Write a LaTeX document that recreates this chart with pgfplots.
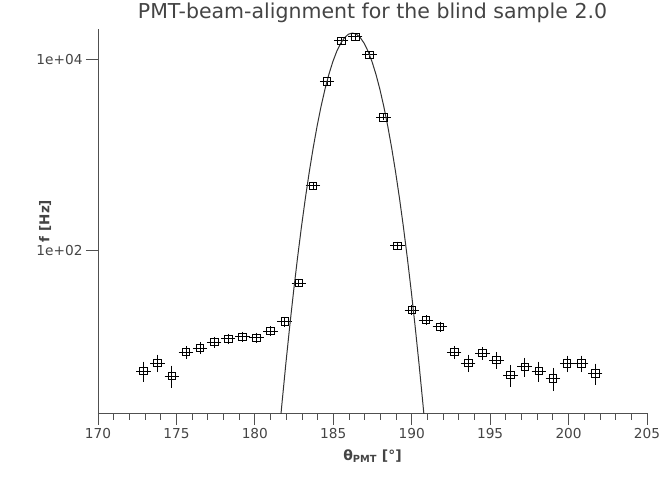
\documentclass[border=0pt]{standalone}
\usepackage{fontspec}
\setmainfont{DejaVu Sans}
\usepackage{pgfplots}
\pgfplotsset{compat=1.18}
\definecolor{axgray}{HTML}{505050}
\definecolor{txtgray}{HTML}{444444}
\pgfplotstableread{
x y ex ey
172.9 5.5 0.3 1.0
173.8 6.7 0.3 1.0
174.7 4.9 0.3 1.0
175.6 8.7 0.3 0.8
176.5 9.6 0.3 0.8
177.4 11.1 0.3 0.8
178.3 12.0 0.3 0.8
179.2 12.6 0.3 0.8
180.1 12.3 0.3 0.8
181.0 14.5 0.3 0.8
181.9 18.1 0.3 1.0
182.8 46 0.3 2.0
183.7 480 0.3 8
184.6 5900 0.3 60
185.5 15800 0.3 120
186.4 17400 0.3 130
187.3 11300 0.3 100
188.2 2500 0.3 40
189.1 113 0.3 4
190.0 24 0.3 1.5
190.9 18.9 0.3 1.0
191.8 16 0.3 1.0
192.7 8.7 0.3 0.8
193.6 6.7 0.3 1.0
194.5 8.5 0.3 0.8
195.4 7.2 0.3 1.0
196.3 5.0 0.3 1.0
197.2 6.1 0.3 1.0
198.1 5.5 0.3 1.0
199.0 4.6 0.3 1.0
199.9 6.6 0.3 0.9
200.8 6.6 0.3 0.9
201.7 5.2 0.3 1.0
}\measured
\begin{document}
\begin{tikzpicture}
\begin{axis}[
  scale only axis, width=549bp, height=384bp,
  xmin=170, xmax=205, ymode=log, ymin=2, ymax=21000,
  axis x line*=bottom, axis y line*=left,
  axis line style={axgray, line width=0.8bp},
  xtick={170,175,...,205}, minor x tick num=4,
  ytick={100,10000}, yticklabels={1e+02,1e+04}, yminorticks=false,
  tick align=outside, major tick length=12bp, minor tick length=7bp,
  tick style={axgray, line width=0.8bp},
  /pgf/number format/assume math mode=true,
  ticklabel style={font=\fontsize{13.7bp}{16bp}\selectfont, text=txtgray},
  title={PMT-beam-alignment for the blind sample 2.0},
  title style={font=\fontsize{20.5bp}{24bp}\selectfont, text=txtgray, at={(axis description cs:0.5,1)}, anchor=center, yshift=10bp},
  xlabel={\textbf{θ\textsubscript{PMT} [°]}},
  xlabel style={font=\fontsize{14bp}{16bp}\selectfont, text=txtgray, at={(axis description cs:0.5,0)}, anchor=center, yshift=-43bp},
  ylabel={\textbf{f [Hz]}},
  ylabel style={font=\fontsize{13.5bp}{16bp}\selectfont, text=txtgray, at={(axis description cs:-0.0965,0.5)}, anchor=center},
]
\addplot[black, line width=0.7bp, only marks, mark=square, mark size=3.8bp,
  error bars/.cd, x dir=both, x explicit, y dir=both, y explicit,
  error bar style={line width=0.6bp},
  error mark options={line width=0.6bp, mark size=2.5bp}]
  table[x=x, y=y, x error=ex, y error=ey] {\measured};
\addplot[black!80, line width=1bp, no marks] coordinates {
(181.47,0.878) (181.72,2.443) (181.97,6.434) (182.22,16.03) (182.47,37.77)
(182.72,84.25) (182.97,177.8) (183.22,354.9) (183.47,670.7) (183.72,1199)
(183.97,2028) (184.22,3245) (184.47,4914) (184.72,7039) (184.97,9543)
(185.22,12240) (185.47,14860) (185.72,17060) (185.97,18540) (186.22,19050)
(186.47,18540) (186.72,17060) (186.97,14860) (187.22,12240) (187.47,9543)
(187.72,7039) (187.97,4914) (188.22,3245) (188.47,2028) (188.72,1199)
(188.97,670.7) (189.22,354.9) (189.47,177.8) (189.72,84.25) (189.97,37.77)
(190.22,16.03) (190.47,6.434) (190.72,2.443) (190.97,0.878)
};
\end{axis}
\pgfresetboundingbox
\path[use as bounding box] ([xshift=-98bp,yshift=-66bp]current axis.south west) rectangle ([xshift=14bp,yshift=29bp]current axis.north east);
\end{tikzpicture}
\end{document}
